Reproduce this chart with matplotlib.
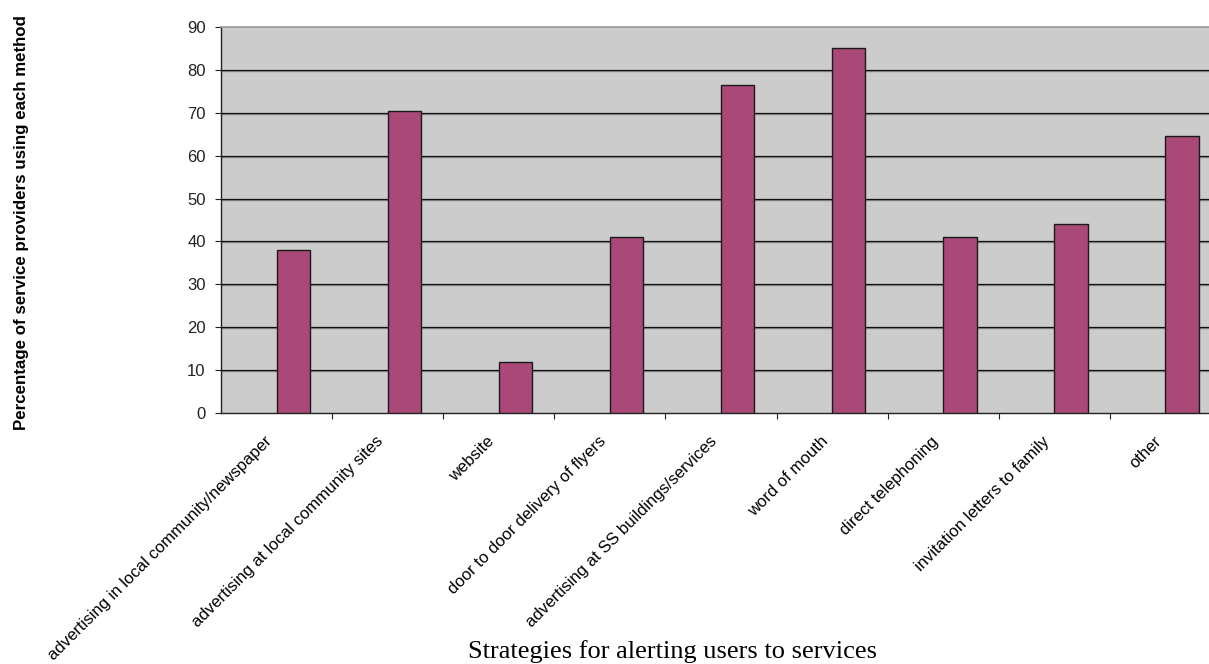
import matplotlib
matplotlib.use("Agg")
import matplotlib.pyplot as plt
import matplotlib.transforms as mtransforms
import numpy as np

categories = [
    "advertising in local community/newspaper",
    "advertising at local community sites",
    "website",
    "door to door delivery of flyers",
    "advertising at SS buildings/services",
    "word of mouth",
    "direct telephoning",
    "invitation letters to family",
    "other",
]
percentages = [38, 70.5, 12, 41, 76.5, 85, 41, 44, 64.5]
y_ticks = [0, 10, 20, 30, 40, 50, 60, 70, 80, 90]

W, H, DPI = 1209, 664, 100
fig = plt.figure(figsize=(W / DPI, H / DPI), dpi=DPI)
fig.patch.set_facecolor("white")

# plot area (pixel box converted to figure fractions); right edge runs past the canvas
left_px, right_px, top_px, bottom_px = 221, 1221, 27, 413
ax = fig.add_axes([left_px / W, 1 - bottom_px / H,
                   (right_px - left_px) / W, (bottom_px - top_px) / H])
ax.set_facecolor("#CCCCCC")

x = np.arange(len(categories))
ax.set_xlim(-0.5, len(categories) - 0.5)
ax.set_ylim(0, 90)

# horizontal gridlines with a faint grey shadow just below each one
shadow = mtransforms.ScaledTranslation(0, -1 / DPI, fig.dpi_scale_trans)
for v in y_ticks[1:-1]:
    sh = ax.axhline(v, color="#8a8a8a", lw=1.0, zorder=1)
    sh.set_transform(sh.get_transform() + shadow)
    ax.axhline(v, color="#111111", lw=0.9, zorder=1.1)

ax.bar(x, percentages, width=0.3, align="edge", color="#AA4878",
       edgecolor="#1a1a1a", linewidth=1.0, zorder=3)

# spines
for s in ["top", "right"]:
    ax.spines[s].set_color("#999999")
    ax.spines[s].set_linewidth(1.2)
ax.spines["left"].set_color("#222222")
ax.spines["bottom"].set_color("#222222")
ax.spines["left"].set_linewidth(1.0)
ax.spines["bottom"].set_linewidth(1.0)

# y axis
ax.set_yticks(y_ticks)
ax.set_yticklabels([str(v) for v in y_ticks], fontname="Liberation Sans", fontsize=12)
ax.tick_params(axis="y", direction="out", length=4, width=0.8, pad=7, colors="#222222")

# x axis: ticks at category boundaries, labels at category centres
ax.set_xticks(x[:-1] + 0.5)
ax.set_xticklabels([])
ax.tick_params(axis="x", which="major", direction="out", length=4, width=0.8, colors="#222222")
ax.set_xticks(x, minor=True)
ax.set_xticklabels(categories, minor=True, fontname="Liberation Sans", fontsize=12)
ax.tick_params(axis="x", which="minor", length=0, pad=15)
shift = mtransforms.ScaledTranslation(-12 / DPI, 0, fig.dpi_scale_trans)
for lab in ax.get_xticklabels(minor=True):
    lab.set_rotation(45)
    lab.set_ha("right")
    lab.set_va("top")
    lab.set_rotation_mode("anchor")
    lab.set_transform(lab.get_transform() + shift)

fig.text(672 / W, 1 - 658 / H, "Strategies for alerting users to services",
         fontname="Liberation Serif", fontsize=19, ha="center", va="baseline")
fig.text(22 / W, 1 - 223 / H, "Percentage of service providers using each method",
         fontname="Liberation Sans", fontweight="bold", fontsize=12.2,
         rotation=90, ha="center", va="center")

fig.savefig("out.png", dpi=DPI)
